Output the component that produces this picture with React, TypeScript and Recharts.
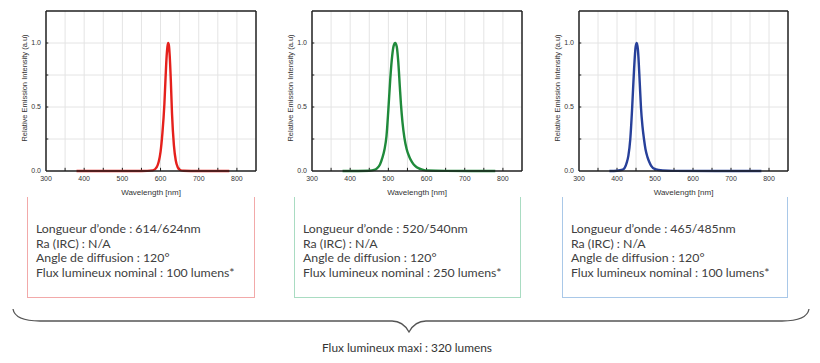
import { LineChart, Line, XAxis, YAxis, ReferenceLine, Label } from "recharts";

// spectra (wavelength nm -> relative intensity)
const redWl = [380, 450, 500, 550, 580, 590, 595, 600, 605, 610, 613, 616, 618, 620, 622, 624, 627, 630, 635, 640, 645, 650, 660, 700, 780];
const redVal = [0, 0, 0, 0, 0.005, 0.03, 0.07, 0.15, 0.3, 0.52, 0.72, 0.9, 0.97, 1.0, 0.98, 0.9, 0.7, 0.45, 0.2, 0.08, 0.03, 0.01, 0.002, 0, 0];

const greenWl = [380, 450, 465, 470, 478, 484, 490, 495, 500, 505, 510, 514, 518, 522, 526, 530, 533, 537, 542, 548, 555, 562, 570, 580, 590, 600, 650, 780];
const greenVal = [0, 0.002, 0.01, 0.02, 0.05, 0.1, 0.17, 0.27, 0.48, 0.72, 0.9, 0.98, 1.0, 0.97, 0.85, 0.66, 0.52, 0.38, 0.26, 0.17, 0.11, 0.07, 0.04, 0.02, 0.01, 0.004, 0.001, 0];

const blueWl = [380, 400, 415, 425, 430, 435, 440, 445, 449, 452, 455, 460, 463, 467, 471, 475, 480, 485, 490, 500, 520, 550, 780];
const blueVal = [0, 0.002, 0.01, 0.06, 0.12, 0.25, 0.5, 0.8, 0.97, 1.0, 0.95, 0.68, 0.5, 0.35, 0.25, 0.17, 0.11, 0.07, 0.04, 0.015, 0.004, 0.001, 0];

const xTicks = [300, 400, 500, 600, 700, 800];
const xGrid = [350, 400, 450, 500, 550, 600, 650, 700, 750, 800];
const yTicks = [0, 0.5, 1.0];
const yGrid = [0.25, 0.5, 0.75, 1.0];

const red = ["Longueur d’onde : 614/624nm", "Ra (IRC) : N/A", "Angle de diffusion : 120°", "Flux lumineux nominal : 100 lumens*"];
const green = ["Longueur d’onde : 520/540nm", "Ra (IRC) : N/A", "Angle de diffusion : 120°", "Flux lumineux nominal : 250 lumens*"];
const blue = ["Longueur d’onde : 465/485nm", "Ra (IRC) : N/A", "Angle de diffusion : 120°", "Flux lumineux nominal : 100 lumens*"];

const AX = "#1f1f1f";
const TXT = "#333";

const YLabel = ({ viewBox }: any) => {
  const cx = viewBox.x + 25;
  const cy = viewBox.y + viewBox.height / 2 - 3;
  return (
    <text x={cx} y={cy} transform={`rotate(-90 ${cx} ${cy})`} textAnchor="middle" dominantBaseline="middle"
      fontSize={7.5} fill={TXT} fontFamily="Liberation Sans">
      Relative Emission Intensity (a.u)
    </text>
  );
};

function Spectrum({ wl, val, color, left, width }: { wl: number[]; val: number[]; color: string; left: number; width: number }) {
  const data = wl.map((w, i) => ({ wl: w, v: val[i] }));
  return (
    <div style={{ position: "absolute", left, top: 0 }}>
      <LineChart width={width} height={200} data={data} margin={{ top: 11, right: 10, bottom: 0, left: 0 }}
        style={{ fontFamily: "Liberation Sans" }}>
        {xGrid.map((x) => (
          <ReferenceLine key={"gx" + x} x={x} stroke="#e4e4e4" strokeWidth={1} />
        ))}
        {yGrid.map((y) => (
          <ReferenceLine key={"gy" + y} y={y} stroke="#e4e4e4" strokeWidth={1} />
        ))}
        {xGrid.map((x) => (
          <ReferenceLine key={"tx" + x} segment={[{ x, y: 0 }, { x, y: 0.025 }]} stroke={AX} strokeWidth={1} />
        ))}
        {yGrid.map((y) => (
          <ReferenceLine key={"ty" + y} segment={[{ x: 300, y }, { x: 306, y }]} stroke={AX} strokeWidth={1} />
        ))}
        <ReferenceLine y={1.25} stroke={AX} strokeWidth={1.5} />
        <ReferenceLine x={850} stroke={AX} strokeWidth={1.5} />
        <XAxis type="number" dataKey="wl" domain={[300, 850]} ticks={xTicks} height={29}
          tickLine={false} tickSize={3} axisLine={{ stroke: AX, strokeWidth: 1.5 }}
          tick={{ fontSize: 7, fill: TXT }} interval={0}>
          <Label value="Wavelength [nm]" position="insideBottom" offset={5} fontSize={8} fill={TXT} />
        </XAxis>
        <YAxis type="number" domain={[0, 1.25]} ticks={yTicks} width={46}
          tickLine={false} tickSize={3} axisLine={{ stroke: AX, strokeWidth: 1.5 }}
          tick={{ fontSize: 7, fill: TXT }} tickFormatter={(t) => t.toFixed(1)} interval={0}>
          <Label content={YLabel} />
        </YAxis>
        <Line type="monotone" dataKey="v" stroke={color} strokeWidth={2.4} dot={false} isAnimationActive={false} />
      </LineChart>
    </div>
  );
}

function Box({ left, width, color, lines }: { left: number; width: number; color: string; lines: string[] }) {
  return (
    <div style={{
      position: "absolute", left, top: 197, width, height: 101, boxSizing: "border-box",
      borderLeft: `1.5px solid ${color}`, borderRight: `1.5px solid ${color}`, borderBottom: `1.5px solid ${color}`,
    }}>
      <div style={{ position: "absolute", left: 8, top: 25, fontFamily: "Lato", fontSize: 12.3, lineHeight: "14.7px", color: "#404040", whiteSpace: "nowrap" }}>
        {lines.map((l) => (
          <div key={l}>{l}</div>
        ))}
      </div>
    </div>
  );
}

export default function App() {
  return (
    <div style={{ position: "relative", width: 820, height: 363, background: "#fff", margin: -8, overflow: "hidden" }}>
      <Box left={27} width={228} color="#f2a9a9" lines={red} />
      <Box left={294} width={227} color="#a9dcc2" lines={green} />
      <Box left={562} width={226} color="#a9c8e8" lines={blue} />
      <Spectrum wl={redWl} val={redVal} color="#e5201c" left={0} width={266} />
      <Spectrum wl={greenWl} val={greenVal} color="#1f8a3b" left={266} width={266} />
      <Spectrum wl={blueWl} val={blueVal} color="#27409a" left={533} width={265} />
      <svg width={820} height={363} style={{ position: "absolute", left: 0, top: 0, pointerEvents: "none" }}>
        <path d="M13 309 Q15 321 40 321 L392 321 Q403 321 409 332 Q415 321 426 321 L782 321 Q807 321 809 309"
          fill="none" stroke="#555" strokeWidth={1.3} />
        <text x={322} y={352} fontFamily="Lato" fontSize={12} fill="#333" textLength={170} lengthAdjust="spacingAndGlyphs">
          Flux lumineux maxi : 320 lumens
        </text>
      </svg>
    </div>
  );
}
